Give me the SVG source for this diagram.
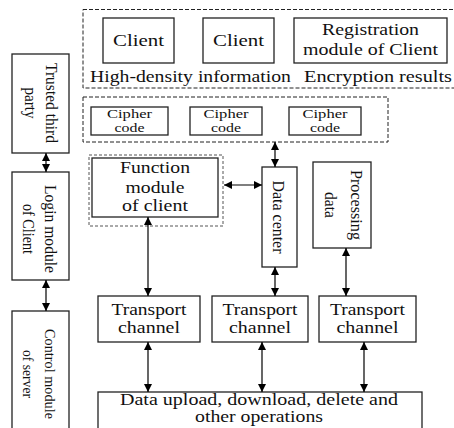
<svg xmlns="http://www.w3.org/2000/svg" width="454" height="428" viewBox="0 0 454 428" font-family="'Liberation Serif', 'Times New Roman', Times, serif">
<defs>
<marker id="ah" markerUnits="userSpaceOnUse" markerWidth="8" markerHeight="8" refX="8" refY="4" orient="auto-start-reverse">
<path d="M0,0 L8,4 L0,8 z" fill="#000"/>
</marker>
<style>
.box{fill:#fff;stroke:#222;stroke-width:1.3}
.dash{fill:none;stroke:#222;stroke-width:1;stroke-dasharray:4,2}
.dashg{fill:none;stroke:#555;stroke-width:1;stroke-dasharray:3,2}
.t{font-family:'Liberation Serif', serif;fill:#111;text-anchor:middle}
.s{text-anchor:start}
.c{stroke:#000;stroke-width:1.2;fill:none;marker-start:url(#ah);marker-end:url(#ah)}
</style>
</defs>
<rect width="454" height="428" fill="#fff"/>

<g id="top-group">
<rect class="dash" x="83" y="9.5" width="375" height="78.5"/>
<text class="t s" x="90" y="82" font-size="17.5" textLength="201" lengthAdjust="spacingAndGlyphs">High-density information</text>
<text class="t s" x="304" y="82" font-size="17.5" textLength="148" lengthAdjust="spacingAndGlyphs">Encryption results</text>
</g>
<g id="client1">
<rect class="box" x="103" y="18" width="71" height="45"/>
<text class="t" x="138.5" y="46" font-size="17.5" textLength="51" lengthAdjust="spacingAndGlyphs">Client</text>
</g>
<g id="client2">
<rect class="box" x="203" y="18" width="71" height="45"/>
<text class="t" x="238.5" y="46" font-size="17.5" textLength="51" lengthAdjust="spacingAndGlyphs">Client</text>
</g>
<g id="registration">
<rect class="box" x="294" y="18" width="153" height="45"/>
<text class="t" x="370.5" y="35" font-size="17.5" textLength="97" lengthAdjust="spacingAndGlyphs">Registration</text>
<text class="t" x="370.5" y="55" font-size="17.5" textLength="135" lengthAdjust="spacingAndGlyphs">module of Client</text>
</g>

<g id="cipher-group">
<rect class="dash" x="83" y="97" width="305" height="45"/>
</g>
<g id="cipher1">
<rect class="box" x="91" y="107" width="77" height="28"/>
<text class="t" x="129.5" y="118" font-size="12.5" textLength="45" lengthAdjust="spacingAndGlyphs">Cipher</text>
<text class="t" x="129.5" y="132" font-size="12.5" textLength="30" lengthAdjust="spacingAndGlyphs">code</text>
</g>
<g id="cipher2">
<rect class="box" x="190" y="107" width="72" height="28"/>
<text class="t" x="226" y="118" font-size="12.5" textLength="45" lengthAdjust="spacingAndGlyphs">Cipher</text>
<text class="t" x="226" y="132" font-size="12.5" textLength="30" lengthAdjust="spacingAndGlyphs">code</text>
</g>
<g id="cipher3">
<rect class="box" x="289" y="107" width="72" height="28"/>
<text class="t" x="325" y="118" font-size="12.5" textLength="45" lengthAdjust="spacingAndGlyphs">Cipher</text>
<text class="t" x="325" y="132" font-size="12.5" textLength="30" lengthAdjust="spacingAndGlyphs">code</text>
</g>

<g id="trusted">
<rect class="box" x="12" y="54" width="57" height="99"/>
<text class="t" font-size="16.5" textLength="80" lengthAdjust="spacingAndGlyphs" transform="translate(46,103) rotate(90)">Trusted third</text>
<text class="t" font-size="16.5" textLength="31" lengthAdjust="spacingAndGlyphs" transform="translate(25,103) rotate(90)">party</text>
</g>
<g id="login">
<rect class="box" x="12" y="172" width="57" height="108"/>
<text class="t" font-size="16.5" textLength="88" lengthAdjust="spacingAndGlyphs" transform="translate(45,229) rotate(90)">Login module</text>
<text class="t" font-size="16.5" textLength="50" lengthAdjust="spacingAndGlyphs" transform="translate(23,229) rotate(90)">of Client</text>
</g>
<g id="control">
<rect class="box" x="12" y="311" width="57" height="130"/>
<text class="t" font-size="15" textLength="90" lengthAdjust="spacingAndGlyphs" transform="translate(45,374) rotate(90)">Control module</text>
<text class="t" font-size="15" textLength="48" lengthAdjust="spacingAndGlyphs" transform="translate(23,374) rotate(90)">of server</text>
</g>

<g id="function">
<rect class="dashg" x="89" y="155" width="134" height="71"/>
<rect class="box" x="92" y="158" width="126" height="59"/>
<text class="t" x="155" y="173" font-size="17" textLength="70" lengthAdjust="spacingAndGlyphs">Function</text>
<text class="t" x="155" y="193" font-size="17" textLength="59" lengthAdjust="spacingAndGlyphs">module</text>
<text class="t" x="155" y="211" font-size="17" textLength="66" lengthAdjust="spacingAndGlyphs">of client</text>
</g>
<g id="datacenter">
<rect class="box" x="262" y="167" width="35" height="100"/>
<text class="t" font-size="17" textLength="73" lengthAdjust="spacingAndGlyphs" transform="translate(273,217) rotate(90)">Data center</text>
</g>
<g id="processing">
<rect class="box" x="313" y="162" width="58" height="86"/>
<text class="t" font-size="17" textLength="70" lengthAdjust="spacingAndGlyphs" transform="translate(351,205) rotate(90)">Processing</text>
<text class="t" font-size="17" textLength="26" lengthAdjust="spacingAndGlyphs" transform="translate(325,205) rotate(90)">data</text>
</g>

<g id="transport1">
<rect class="box" x="98" y="296" width="102" height="46"/>
<text class="t" x="149" y="315" font-size="17" textLength="75" lengthAdjust="spacingAndGlyphs">Transport</text>
<text class="t" x="149" y="333" font-size="17" textLength="62" lengthAdjust="spacingAndGlyphs">channel</text>
</g>
<g id="transport2">
<rect class="box" x="212" y="296" width="96" height="46"/>
<text class="t" x="260" y="315" font-size="17" textLength="75" lengthAdjust="spacingAndGlyphs">Transport</text>
<text class="t" x="260" y="333" font-size="17" textLength="62" lengthAdjust="spacingAndGlyphs">channel</text>
</g>
<g id="transport3">
<rect class="box" x="319" y="296" width="97" height="46"/>
<text class="t" x="367.5" y="315" font-size="17" textLength="75" lengthAdjust="spacingAndGlyphs">Transport</text>
<text class="t" x="367.5" y="333" font-size="17" textLength="62" lengthAdjust="spacingAndGlyphs">channel</text>
</g>
<g id="operations">
<rect class="box" x="98" y="392" width="324" height="50"/>
<text class="t" x="259" y="405" font-size="16" textLength="278" lengthAdjust="spacingAndGlyphs">Data upload, download, delete and</text>
<text class="t" x="259" y="422" font-size="16" textLength="128" lengthAdjust="spacingAndGlyphs">other operations</text>
</g>

<g id="connectors">
<line class="c" x1="46" y1="153" x2="46" y2="172"/>
<line class="c" x1="46" y1="280" x2="46" y2="311"/>
<line class="c" x1="275" y1="142" x2="275" y2="167"/>
<line class="c" x1="224" y1="185" x2="262" y2="185"/>
<line class="c" x1="148" y1="217" x2="148" y2="296"/>
<line class="c" x1="275" y1="267" x2="275" y2="296"/>
<line class="c" x1="346" y1="248" x2="346" y2="296"/>
<line class="c" x1="148" y1="342" x2="148" y2="392"/>
<line class="c" x1="262" y1="342" x2="262" y2="392"/>
<line class="c" x1="364" y1="342" x2="364" y2="392"/>
</g>
</svg>
